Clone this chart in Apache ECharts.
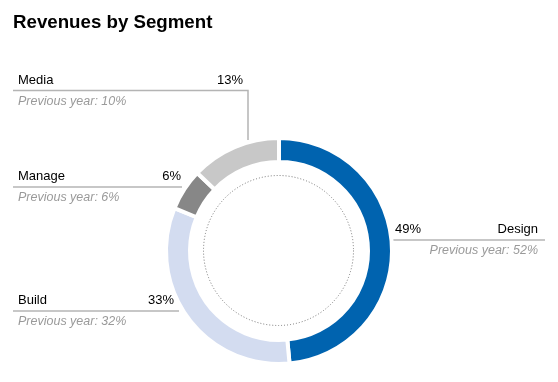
<!DOCTYPE html>
<html>
<head>
<meta charset="utf-8">
<script src="https://cdn.jsdelivr.net/npm/echarts@6/dist/echarts.min.js"></script>
<style>
html,body{margin:0;padding:0;background:#fff;}
#c{width:558px;height:382px;}
</style>
</head>
<body>
<div id="c"></div>
<script>
// ---- data ----
var segments = ['Design', 'Build', 'Manage', 'Media'];
var shares = [49, 33, 6, 13];
var previousYear = [52, 32, 6, 10];
var colors = ['#0063AF', '#D3DCF0', '#878787', '#C8C8C8'];
var title = 'Revenues by Segment';

// ---- layout (label boxes) ----
var layout = {
  Design: {side: 'right', x1: 393, x2: 545, lineY: 240, pctX: 395, nameX: 538},
  Build:  {side: 'left', x1: 13, x2: 179, lineY: 311, pctX: 174, nameX: 18},
  Manage: {side: 'left', x1: 13, x2: 182, lineY: 187, pctX: 181, nameX: 18},
  Media:  {side: 'left', x1: 13, x2: 248, lineY: 90.5, pctX: 243, nameX: 18, drop: 140}
};

var LINE = '#b4b4b4';
var FONT = '"Liberation Sans", Arial, Helvetica, sans-serif';
var graphics = [];
graphics.push({type: 'text', style: {text: title, x: 13, y: 22.5, font: 'bold 18.7px ' + FONT, fill: '#000', textVerticalAlign: 'middle'}});
graphics.push({type: 'circle', shape: {cx: 278.5, cy: 250.5, r: 75}, style: {fill: 'none', stroke: '#777', lineWidth: 1, lineDash: [1, 2]}});

segments.forEach(function (name, i) {
  var L = layout[name];
  var pts = [[L.x1, L.lineY], [L.x2, L.lineY]];
  if (L.drop) pts.push([L.x2, L.drop]);
  graphics.push({type: 'polyline', shape: {points: pts}, style: {stroke: LINE, lineWidth: 1.5, fill: null}});
  var nameAlign = L.side === 'left' ? 'left' : 'right';
  var pctAlign = L.side === 'left' ? 'right' : 'left';
  graphics.push({type: 'text', style: {text: name, x: L.nameX, y: L.lineY - 10.5, font: '13px ' + FONT, fill: '#000', textAlign: nameAlign, textVerticalAlign: 'middle'}});
  graphics.push({type: 'text', style: {text: shares[i] + '%', x: L.pctX, y: L.lineY - 10.5, font: '13px ' + FONT, fill: '#000', textAlign: pctAlign, textVerticalAlign: 'middle'}});
  graphics.push({type: 'text', style: {text: 'Previous year: ' + previousYear[i] + '%', x: L.nameX, y: L.lineY + 11, font: 'italic 12.5px ' + FONT, fill: '#9a9a9a', textAlign: nameAlign, textVerticalAlign: 'middle'}});
});

var chart = echarts.init(document.getElementById('c'), null, {renderer: 'canvas'});
chart.setOption({
  animation: false,
  backgroundColor: '#fff',
  graphic: graphics,
  series: [{
    type: 'pie',
    center: [279, 251],
    radius: [89, 113],
    startAngle: 90,
    clockwise: true,
    label: {show: false},
    labelLine: {show: false},
    emphasis: {disabled: true},
    itemStyle: {borderColor: '#fff', borderWidth: 4},
    data: segments.map(function (n, i) {
      return {name: n, value: shares[i], itemStyle: {color: colors[i]}};
    })
  }]
});
</script>
</body>
</html>
